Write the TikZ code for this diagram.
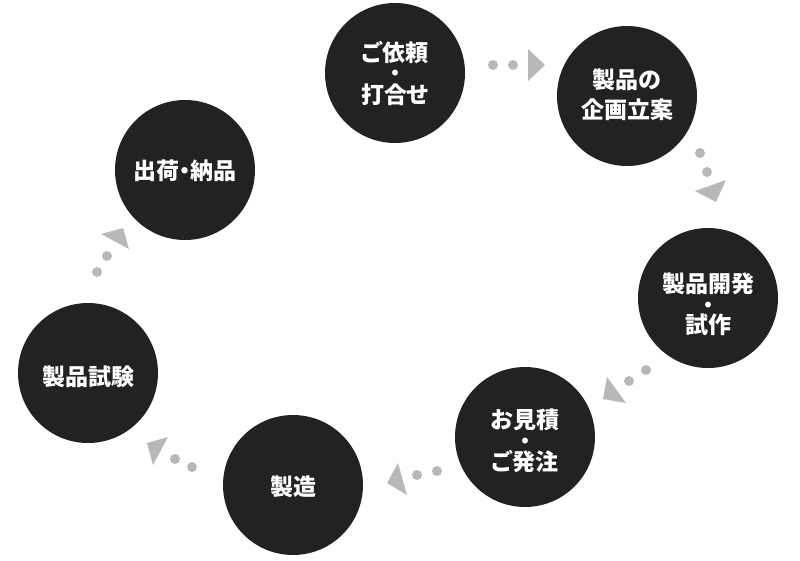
\documentclass[tikz,border=0pt]{standalone}
\usepackage{fontspec}
\setmainfont{Noto Sans CJK JP}[RawFeature=+palt]
\definecolor{dark}{HTML}{222222}
\definecolor{lgray}{HTML}{B8B8B8}
\tikzset{
  circ/.style={circle, fill=dark, minimum size=140pt, inner sep=0pt},
  lbl/.style={text=white, align=center, inner sep=0pt,
    font=\bfseries\fontsize{23}{23}\selectfont},
  sep/.style={text=white, inner sep=0pt, font=\fontsize{6.5}{6.5}\selectfont},
  dot/.style={circle, fill=lgray, minimum size=10pt, inner sep=0pt},
  tri/.style={fill=lgray}
}
\begin{document}
\begin{tikzpicture}[x=1pt,y=-1pt]
\useasboundingbox (0,0) rectangle (800,560);
\node[circ] (c1) at (395,73) {};
\node[circ] (c2) at (627,96) {};
\node[circ] (c3) at (708,298) {};
\node[circ] (c4) at (525,437) {};
\node[circ] (c5) at (293,485) {};
\node[circ] (c6) at (88,373) {};
\node[circ] (c7) at (185,170) {};
% labels
\node[lbl] (t1a) at (395,53) {ご依頼};
\node[sep] (t1b) at (395,73) {●};
\node[lbl] (t1c) at (395,95) {打合せ};
\node[lbl] (t2a) at (627,80) {製品の};
\node[lbl] (t2b) at (627,110) {企画立案};
\node[lbl] (t3a) at (708,284) {製品開発};
\node[sep] (t3b) at (708,305) {●};
\node[lbl] (t3c) at (708,325) {試作};
\node[lbl] (t4a) at (525,420) {お見積};
\node[sep] (t4b) at (525,441) {●};
\node[lbl] (t4c) at (525,462) {ご発注};
\node[lbl] (t5) at (293,487) {製造};
\node[lbl] (t6) at (88,377) {製品試験};
\node[lbl] (t7) at (185,171) {出荷・納品};
% connector 1
\node[dot] (d11) at (493,65) {};
\node[dot] (d12) at (513,65) {};
\fill[tri] (528,49) -- (528,81) -- (545,65) -- cycle;
% connector 2
\node[dot] (d21) at (700,153) {};
\node[dot] (d22) at (707,172) {};
\fill[tri] (695,191) -- (726,180) -- (716,202) -- cycle;
% connector 3
\node[dot] (d31) at (646,370) {};
\node[dot] (d32) at (629,381) {};
\fill[tri] (607,377) -- (603,399) -- (626,403) -- cycle;
% connector 4
\node[dot] (d41) at (437,471) {};
\node[dot] (d42) at (417,475) {};
\fill[tri] (398,463) -- (387,483) -- (407,495) -- cycle;
% connector 5
\node[dot] (d51) at (192,467) {};
\node[dot] (d52) at (175,459) {};
\fill[tri] (147,443) -- (168,437) -- (153,465) -- cycle;
% connector 6
\node[dot] (d61) at (97,272) {};
\node[dot] (d62) at (107,256) {};
\fill[tri] (101,234) -- (123,228) -- (129,249) -- cycle;
\end{tikzpicture}
\end{document}
